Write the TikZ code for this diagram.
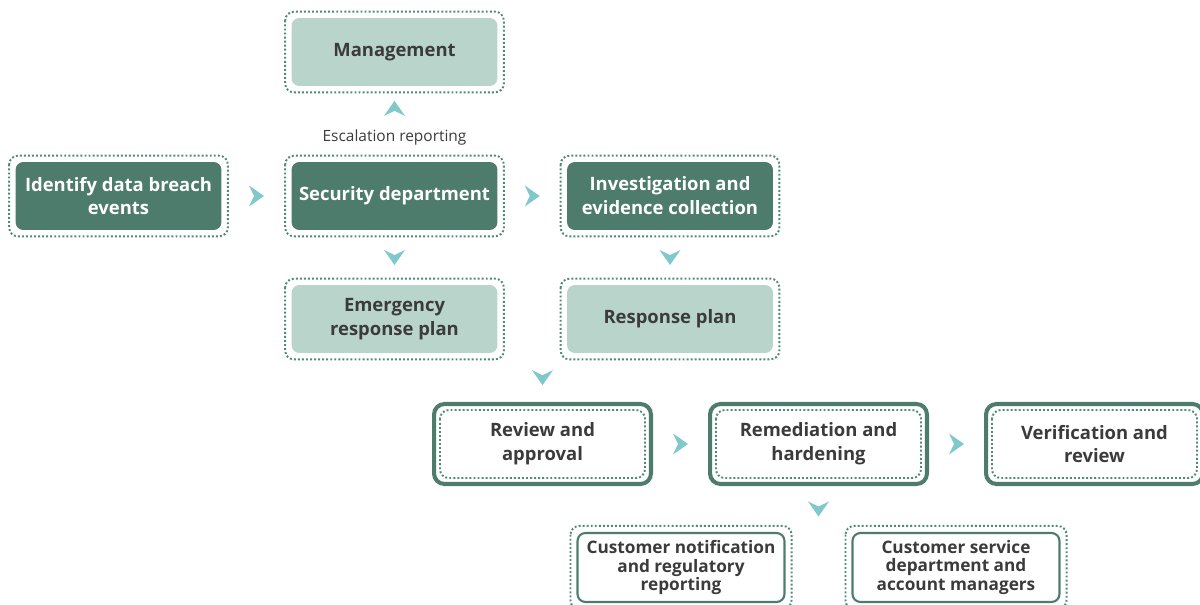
\documentclass[tikz,border=0pt]{standalone}
\usepackage{fontspec}
\setmainfont{Open Sans}
\usetikzlibrary{decorations.markings}

\definecolor{darkgreen}{HTML}{4D7C6D}
\definecolor{lightgreen}{HTML}{B9D5CB}
\definecolor{dotgreen}{HTML}{4F8A79}
\definecolor{chevcol}{HTML}{80C8CB}
\definecolor{txtgray}{HTML}{3B3B3B}

\tikzset{
  box/.style={rounded corners=4.5pt, minimum width=4.12cm, minimum height=1.36cm,
    inner sep=0pt, align=center, font=\fontsize{10.5}{13.6}\selectfont\bfseries},
  darkbox/.style={box, fill=darkgreen, text=white},
  lightbox/.style={box, fill=lightgreen, text=txtgray},
  thickbox/.style={box, draw=darkgreen, line width=2.3pt, rounded corners=6pt,
    minimum width=4.34cm, minimum height=1.6cm, fill=white, text=txtgray},
  thinbox/.style={box, draw=darkgreen, line width=1.2pt, minimum width=4.14cm,
    minimum height=1.38cm, text=txtgray, font=\fontsize{9.8}{10.6}\selectfont\bfseries},
  frame/.style={draw=dotgreen, line width=1.1pt, dash pattern=on 1.1pt off 1.2pt,
    rounded corners=5pt},
  chev/.style={decoration={markings, mark=at position #1 with
    {\fill[chevcol] (-7.5,-10.5) -- (7.5,0) -- (-7.5,10.5) -- (-2.5,0) -- cycle;}},
    postaction=decorate},
  chev/.default=0.5
}

\begin{document}
\begin{tikzpicture}[x=0.02cm, y=-0.02cm]
  \useasboundingbox (0,0) rectangle (1200,605);
  \clip (0,0) rectangle (1200,605);

  % first two rows
  \node [darkbox] (idb) at (118.5,196) {Identify data breach\\events};
  \node [darkbox] (sec) at (394.5,196) {Security department};
  \node [lightbox] (mgmt) at (394.5,52) {Management};
  \node [darkbox] (inv) at (670,196) {Investigation and\\evidence collection};
  \node [lightbox] (erp) at (394.5,319) {Emergency\\response plan};
  \node [lightbox] (rp) at (670,319) {Response plan};
  \node [text=txtgray, font=\fontsize{8.8}{10}\selectfont] (esc) at (394.5,137) {Escalation reporting};

  % third row
  \node [thickbox] (rev) at (542.5,444) {Review and\\approval};
  \node [thickbox] (rem) at (818.5,444) {Remediation and\\hardening};
  \node [thickbox] (ver) at (1094.5,444) {Verification and\\review};

  % bottom row
  \node [thinbox] (cn) at (681,567.5) {Customer notification\\and regulatory\\reporting};
  \node [thinbox] (cs) at (956,567.5) {Customer service\\department and\\account managers};

  % dotted frames
  \foreach \n in {idb,sec,mgmt,inv,erp,rp,cn,cs}
    \draw [frame] ([shift={(-6,-6)}]\n.north west) rectangle ([shift={(6,6)}]\n.south east);
  \foreach \n in {rev,rem,ver}
    \draw [frame] ([shift={(8,8)}]\n.north west) rectangle ([shift={(-8,-8)}]\n.south east);

  % chevrons
  \path [chev] (idb.east) -- (sec.west);
  \path [chev] (sec.east) -- (inv.west);
  \path [chev] (sec.south) -- (erp.north);
  \path [chev] (inv.south) -- (rp.north);
  \path [chev=0.4] (esc.north) -- (mgmt.south);
  \path [chev] (rp.south -| rev.north) -- (rev.north);
  \path [chev] (rev.east) -- (rem.west);
  \path [chev] (rem.east) -- (ver.west);
  \path [chev] (rem.south) -- (rem.south |- cn.north);
\end{tikzpicture}
\end{document}
